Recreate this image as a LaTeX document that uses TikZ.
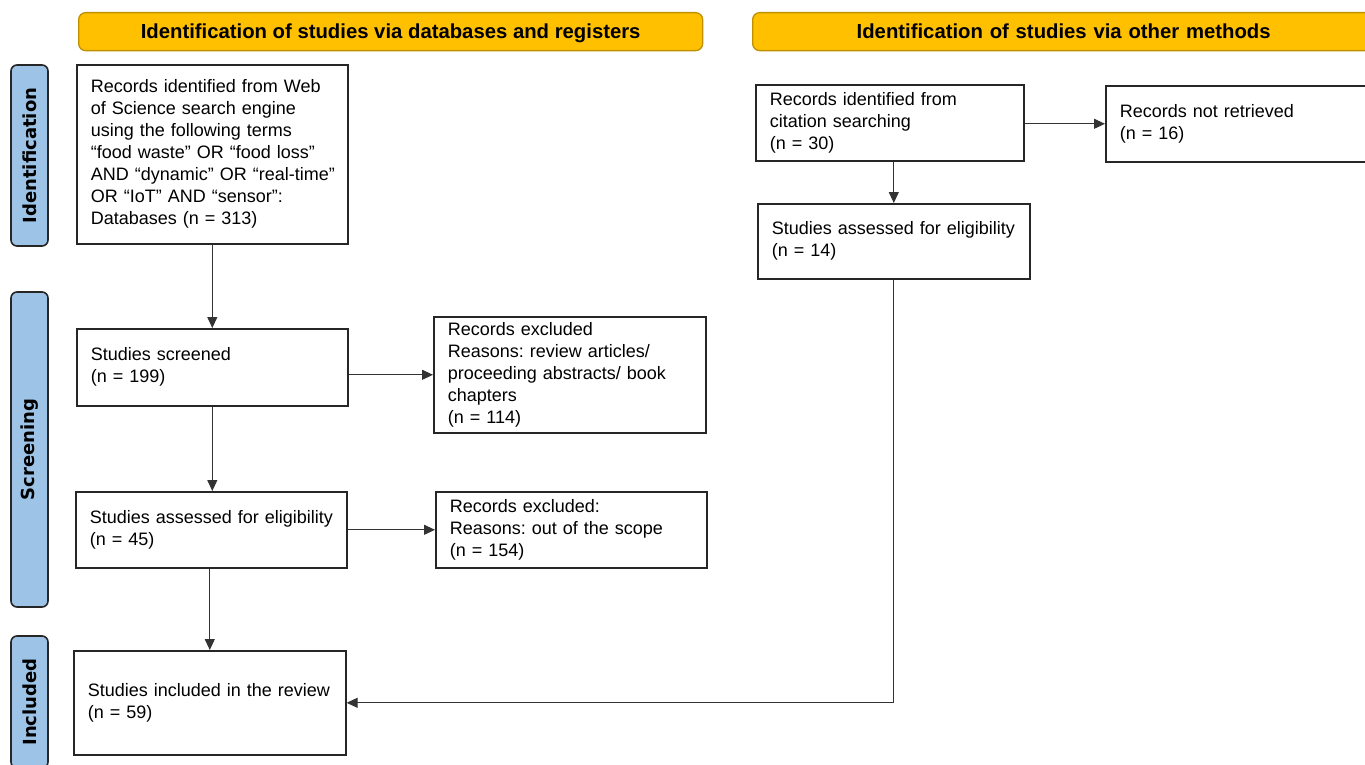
\documentclass[tikz,border=0pt]{standalone}
\usepackage{fontspec}
\setmainfont{Liberation Sans}
\newfontfamily\sidefont{DejaVu Sans}
\usetikzlibrary{arrows.meta}
\definecolor{hdrfill}{HTML}{FFC000}
\definecolor{hdrdraw}{HTML}{BF9000}
\definecolor{sidefill}{HTML}{9DC3E6}
\definecolor{boxdraw}{HTML}{262626}
\definecolor{linecol}{HTML}{333333}
\frenchspacing
\begin{document}
\begin{tikzpicture}[x=1pt,y=-1pt,
 box/.style={draw=boxdraw, line width=1.6pt, fill=white, anchor=north west, inner xsep=14pt, inner ysep=0pt, align=left, font=\fontsize{18}{22}\selectfont},
 hdr/.style={draw=hdrdraw, fill=hdrfill, line width=1.3pt, rounded corners=7pt, minimum height=38pt, inner sep=0pt, text height=15pt, text depth=1pt, anchor=north west, font=\fontsize{20.3}{22}\selectfont\bfseries},
 side/.style={draw=black!85, fill=sidefill, line width=1.6pt, rounded corners=6pt, rotate=90, minimum height=37pt, inner sep=0pt, font=\sidefont\bfseries\fontsize{18}{20}\selectfont},
 conn/.style={draw=linecol, line width=1.1pt, -{Triangle[length=11pt,width=10pt]}}]
\useasboundingbox (0,0) rectangle (1365,765);
\clip (0,0) rectangle (1365,765);

% headers
\node[hdr, minimum width=624pt] (h1) at (78,12) {Identification of studies via databases and registers};
\node[hdr, minimum width=648pt, text width=648pt, align=left] (h2) at (752,12) {\makebox[622pt]{Identification of studies via other methods}};

% side labels
\node[side, minimum width=181pt] (s1) at (29.5,155.5) {Identification};
\node[side, minimum width=315pt] (s2) at (29.5,449.5) {Screening};
\node[side, minimum width=132pt] (s3) at (29.5,702) {Included};

% boxes
\node[box, text width=243pt, minimum height=179pt] (b1) at (76,64)
 {\mbox{Records identified from Web}\\\mbox{of Science search engine}\\\mbox{using the following terms}\\\mbox{“food waste” OR “food loss”}\\\mbox{AND “dynamic” OR “real-time”}\\\mbox{OR “IoT” AND “sensor”:}\\\mbox{Databases (n = 313)}};
\node[box, text width=243pt, minimum height=77pt] (b2) at (76,328)
 {Studies screened\\(n = 199)};
\node[box, text width=244pt, minimum height=116pt] (b3) at (433,316)
 {Records excluded\\\mbox{Reasons: review articles/}\\\mbox{proceeding abstracts/ book}\\chapters\\(n = 114)};
\node[box, text width=243pt, minimum height=76pt] (b4) at (75,491)
 {\mbox{Studies assessed for eligibility}\\(n = 45)};
\node[box, text width=243pt, minimum height=76pt] (b5) at (435,491)
 {Records excluded:\\\mbox{Reasons: out of the scope}\\(n = 154)};
\node[box, text width=244pt, minimum height=104pt] (b6) at (73,650)
 {\mbox{Studies included in the review}\\(n = 59)};
\node[box, text width=240pt, minimum height=76pt] (b7) at (755,84)
 {Records identified from\\citation searching\\(n = 30)};
\node[box, text width=252pt, minimum height=76pt] (b8) at (1105,85)
 {Records not retrieved\\(n = 16)};
\node[box, text width=244pt, minimum height=75pt] (b9) at (757,203)
 {\mbox{Studies assessed for eligibility}\\(n = 14)};

% connectors
\draw[conn] (b1.south) -- (b1.south |- b2.north);
\draw[conn] (b3.west -| b2.east) -- (b3.west);
\draw[conn] (b2.south) -- (b2.south |- b4.north);
\draw[conn] (b4.east) -- (b5.west);
\draw[conn] (b6.north |- b4.south) -- (b6.north);
\draw[conn] (b8.west -| b7.east) -- (b8.west);
\draw[conn] (b9.north |- b7.south) -- (b9.north);
\draw[conn] (b9.south) |- (b6.east);
\end{tikzpicture}
\end{document}
